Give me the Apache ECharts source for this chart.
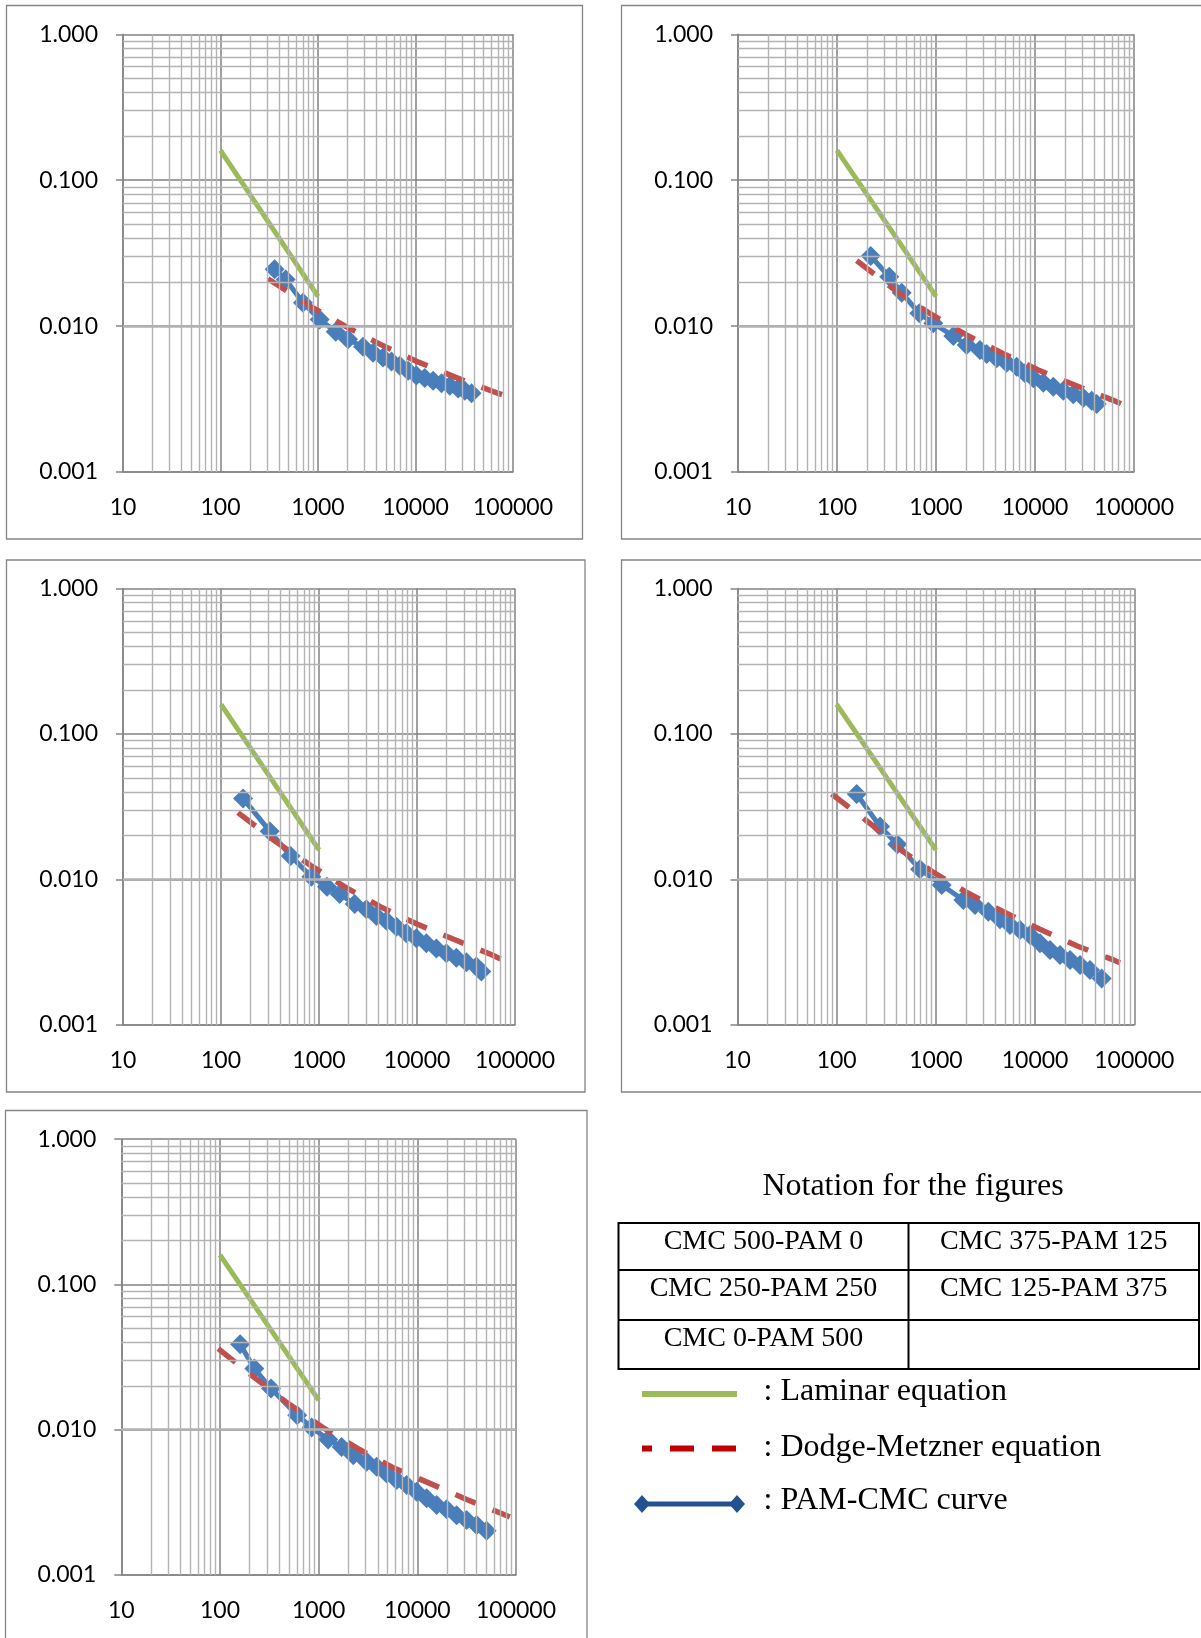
<!DOCTYPE html>
<html>
<head>
<meta charset="utf-8">
<title>Friction factor vs Reynolds number</title>
<script src="https://cdn.jsdelivr.net/npm/echarts@6/dist/echarts.min.js"></script>
<style>
  html, body { margin: 0; padding: 0; background: #ffffff; }
  #chart { width: 1201px; height: 1638px; }
</style>
</head>
<body>
<div id="chart"></div>
<script>
// Axis tick labels
const xTickLabels = ['10', '100', '1000', '10000', '100000'];
const yTickLabels = ['0.001', '0.010', '0.100', '1.000'];

// Laminar equation f = 16/Re (same segment on every panel)
const laminar = [[100, 0.16], [1000, 0.016]];

// Measured PAM-CMC curves [Re, f]
const curve1 = [[359, 0.0245], [466, 0.0209], [701, 0.01445], [1040, 0.0111], [1520, 0.00914], [2032, 0.00811],
  [2898, 0.00721], [3670, 0.00656], [4645, 0.00610], [5675, 0.00573], [6905, 0.00535], [8400, 0.00494],
  [10230, 0.00459], [12450, 0.00440], [15160, 0.00422], [18480, 0.00405], [22490, 0.00390], [27370, 0.00374],
  [32060, 0.00360], [37580, 0.00346]];
const curve2 = [[219, 0.0302], [337, 0.0218], [450, 0.0169], [678, 0.01225], [939, 0.01046], [1496, 0.00855],
  [2042, 0.00742], [2780, 0.00685], [3250, 0.00644], [4100, 0.00602], [5170, 0.00561], [6530, 0.00527],
  [7920, 0.00475], [9620, 0.00439], [12130, 0.00409], [15300, 0.00384], [19320, 0.00361], [24360, 0.00341],
  [30740, 0.00323], [37370, 0.00308], [41980, 0.00292]];
const curve3 = [[168, 0.0361], [314, 0.0215], [514, 0.0145], [836, 0.01045], [1207, 0.00893], [1627, 0.00795],
  [2312, 0.00679], [3046, 0.00624], [3856, 0.00561], [4876, 0.00521], [6166, 0.00474], [7797, 0.00427],
  [9860, 0.00394], [12470, 0.00364], [15770, 0.00336], [19940, 0.00311], [25220, 0.00290], [31900, 0.00270],
  [40330, 0.00252], [45340, 0.00233]];
const curve4 = [[159, 0.0387], [274, 0.0231], [408, 0.0175], [692, 0.01175], [1144, 0.00916], [1889, 0.00723],
  [2478, 0.00668], [3377, 0.00601], [4426, 0.00533], [5585, 0.00486], [7045, 0.00450], [8890, 0.00416],
  [11210, 0.00364], [14140, 0.00328], [17840, 0.00303], [22500, 0.00280], [28380, 0.00258], [35760, 0.00239],
  [46880, 0.00209]];
const curve5 = [[160, 0.0388], [223, 0.0264], [329, 0.0192], [607, 0.0126], [849, 0.01037], [1250, 0.00857],
  [1710, 0.00762], [2244, 0.00668], [3063, 0.00601], [3870, 0.00556], [4886, 0.00500], [6171, 0.00450],
  [7792, 0.00416], [9840, 0.00374], [12420, 0.00337], [15690, 0.00303], [19810, 0.00283], [25010, 0.00258],
  [31590, 0.00239], [39890, 0.00221], [50370, 0.00202]];

// Dodge-Metzner equation curves [Re, f]
const dm1 = [[307, 0.0211], [836, 0.01365], [1923, 0.00995], [4508, 0.00741], [10740, 0.00566],
  [25940, 0.00445], [62660, 0.00356], [79250, 0.00337]];
const dm2 = [[158, 0.0281], [406, 0.0172], [883, 0.01211], [2009, 0.00873], [4571, 0.00658],
  [10810, 0.00500], [25530, 0.00393], [60950, 0.00311], [75160, 0.00292]];
const dm3 = [[149, 0.0288], [367, 0.0181], [817, 0.01253], [1871, 0.00883], [4227, 0.00650],
  [10000, 0.00494], [23660, 0.00388], [57810, 0.00304], [72610, 0.00283]];
const dm4 = [[89, 0.0387], [234, 0.0233], [442, 0.01596], [957, 0.01114], [2123, 0.00804],
  [4786, 0.00601], [11190, 0.00455], [26610, 0.00349], [61380, 0.00280], [71780, 0.00268]];
const dm5 = [[96, 0.0362], [236, 0.0222], [481, 0.01531], [1096, 0.01038], [2460, 0.00746],
  [5623, 0.00550], [13210, 0.00429], [31620, 0.00331], [71450, 0.00265], [86700, 0.00251]];

// Notation table and legend texts
const tableCells = [['CMC 500-PAM 0', 'CMC 375-PAM 125'], ['CMC 250-PAM 250', 'CMC 125-PAM 375'], ['CMC 0-PAM 500', '']];
const legendTexts = [': Laminar equation', ': Dodge-Metzner equation', ': PAM-CMC curve'];
const notationTitle = 'Notation for the figures';

const curves = [curve1, curve2, curve3, curve4, curve5];
const dmCurves = [dm1, dm2, dm3, dm4, dm5];

// Panel plot areas (pixels)
const grids = [
  { left: 123, top: 34.3, width: 390, height: 437.7 },
  { left: 738, top: 34.3, width: 396, height: 437.7 },
  { left: 123, top: 588.5, width: 392, height: 436.5 },
  { left: 737.5, top: 588.5, width: 396.8, height: 436.5 },
  { left: 121.3, top: 1139.2, width: 394.7, height: 435.8 }
];
// Panel frames
const frames = [
  { x: 6.5, y: 5.5, width: 576, height: 533.5 },
  { x: 621.5, y: 5.5, width: 600, height: 533.5 },
  { x: 6.5, y: 560, width: 578.5, height: 532 },
  { x: 621.5, y: 560, width: 600, height: 532 },
  { x: 5.5, y: 1110.5, width: 581.5, height: 600 }
];

// Minor grid positions: 2..9 within each decade
function minorValues(fromExp, toExp) {
  const out = [];
  for (let e = fromExp; e < toExp; e++) {
    for (let k = 2; k <= 9; k++) out.push(+(k * Math.pow(10, e)).toPrecision(6));
  }
  return out;
}
const minorX = minorValues(1, 5);
const minorY = minorValues(-3, 0);

const BLUE = '#4a7ebb', RED = '#c0504d', GREEN = '#9bbb59';
const AXIS_GRAY = '#858585', MAJOR = '#828282', MINOR = '#b3b3b3';
const LABEL_FONT = 'Lato';
const SERIF = '"Liberation Serif", "Times New Roman", serif';

const xAxes = [], yAxes = [], series = [];
grids.forEach((g, i) => {
  xAxes.push({
    type: 'log', logBase: 10, min: 10, max: 100000, gridIndex: i,
    axisLine: { show: true, lineStyle: { color: AXIS_GRAY, width: 1.5 } },
    axisTick: { show: false },
    axisLabel: {
      interval: 0, margin: 24, color: '#000', fontFamily: LABEL_FONT, fontSize: 23,
      formatter: v => xTickLabels[Math.round(Math.log10(v)) - 1]
    },
    splitLine: { show: true, lineStyle: { color: MAJOR, width: 1.5 } }
  });
  yAxes.push({
    type: 'log', logBase: 10, min: 0.001, max: 1, gridIndex: i,
    axisLine: { show: true, lineStyle: { color: AXIS_GRAY, width: 1.5 } },
    axisTick: { show: true, length: 7, lineStyle: { color: AXIS_GRAY, width: 1.5 } },
    axisLabel: {
      margin: 25, color: '#000', fontFamily: LABEL_FONT, fontSize: 23,
      formatter: v => yTickLabels[Math.round(Math.log10(v)) + 3]
    },
    splitLine: { show: true, lineStyle: { color: MAJOR, width: 1.5 } }
  });
  // minor gridlines
  series.push({
    type: 'line', xAxisIndex: i, yAxisIndex: i, data: [], silent: true, z: -1,
    markLine: {
      silent: true, symbol: ['none', 'none'], label: { show: false }, animation: false,
      lineStyle: { color: MINOR, width: 1.4, type: 'solid' },
      emphasis: { disabled: true },
      data: minorX.map(v => ({ xAxis: v })).concat(minorY.map(v => ({ yAxis: v })))
    }
  });
  series.push({
    name: 'PAM-CMC curve', type: 'line', xAxisIndex: i, yAxisIndex: i, data: curves[i],
    symbol: 'diamond', symbolSize: 20, showSymbol: true,
    lineStyle: { color: BLUE, width: 5 }, itemStyle: { color: BLUE, borderWidth: 0 }, z: 3
  });
  series.push({
    name: 'Dodge-Metzner equation', type: 'line', xAxisIndex: i, yAxisIndex: i, data: dmCurves[i],
    symbol: 'none', lineStyle: { color: RED, width: 5.5, type: [22, 18], cap: 'butt' }, z: 4
  });
  series.push({
    name: 'Laminar equation', type: 'line', xAxisIndex: i, yAxisIndex: i, data: laminar,
    symbol: 'none', lineStyle: { color: GREEN, width: 5 }, z: 4
  });
});

// Frames, notation table and legend
const graphics = [];
frames.forEach(f => graphics.push({
  type: 'rect', shape: f, silent: true, z: -10,
  style: { fill: 'none', stroke: AXIS_GRAY, lineWidth: 1.3 }
}));

graphics.push({
  type: 'text', x: 913, y: 1187, silent: true,
  style: { text: notationTitle, font: '32px ' + SERIF, fill: '#000', textAlign: 'center', textVerticalAlign: 'middle' }
});
const tbl = { x: 618.5, y: 1223, w: 580.5, rows: [1223, 1270, 1320, 1369], col: 908.5 };
graphics.push({
  type: 'rect', silent: true,
  shape: { x: tbl.x, y: tbl.y, width: tbl.w, height: tbl.rows[3] - tbl.rows[0] },
  style: { fill: 'none', stroke: '#000', lineWidth: 2 }
});
[1, 2].forEach(r => graphics.push({
  type: 'line', silent: true,
  shape: { x1: tbl.x, y1: tbl.rows[r], x2: tbl.x + tbl.w, y2: tbl.rows[r] },
  style: { stroke: '#000', lineWidth: 2 }
}));
graphics.push({
  type: 'line', silent: true,
  shape: { x1: tbl.col, y1: tbl.rows[0], x2: tbl.col, y2: tbl.rows[3] },
  style: { stroke: '#000', lineWidth: 2 }
});
const colCenters = [(tbl.x + tbl.col) / 2, (tbl.col + tbl.x + tbl.w) / 2];
tableCells.forEach((row, r) => row.forEach((txt, c) => {
  if (!txt) return;
  graphics.push({
    type: 'text', x: colCenters[c], y: tbl.rows[r] + 18.5, silent: true,
    style: { text: txt, font: '28px ' + SERIF, fill: '#000', textAlign: 'center', textVerticalAlign: 'middle' }
  });
}));

const legY = [1394, 1448.5, 1504];
const legX1 = 642, legX2 = 737, legTextX = 763.5;
graphics.push({
  type: 'line', silent: true, shape: { x1: legX1, y1: legY[0], x2: legX2, y2: legY[0] },
  style: { stroke: GREEN, lineWidth: 6 }
});
graphics.push({
  type: 'line', silent: true, shape: { x1: legX1, y1: legY[1], x2: legX2, y2: legY[1] },
  style: { stroke: '#c00000', lineWidth: 6, lineDash: [24, 18], lineDashOffset: 14 }
});
graphics.push({
  type: 'line', silent: true, shape: { x1: legX1, y1: legY[2], x2: legX2, y2: legY[2] },
  style: { stroke: '#255190', lineWidth: 5 }
});
[legX1, legX2].forEach(cx => graphics.push({
  type: 'polygon', silent: true,
  shape: { points: [[cx - 8, legY[2]], [cx, legY[2] - 9], [cx + 8, legY[2]], [cx, legY[2] + 9]] },
  style: { fill: '#255190' }
}));
const legTextY = [1392, 1448, 1501];
legendTexts.forEach((t, k) => graphics.push({
  type: 'text', x: legTextX, y: legTextY[k], silent: true,
  style: { text: t, font: '32px ' + SERIF, fill: '#000', textAlign: 'left', textVerticalAlign: 'middle' }
}));

const chart = echarts.init(document.getElementById('chart'), null, { renderer: 'canvas' });
chart.setOption({
  backgroundColor: '#ffffff',
  animation: false,
  grid: grids.map(g => Object.assign({ containLabel: false }, g)),
  xAxis: xAxes,
  yAxis: yAxes,
  series: series,
  graphic: graphics
});
</script>
</body>
</html>
